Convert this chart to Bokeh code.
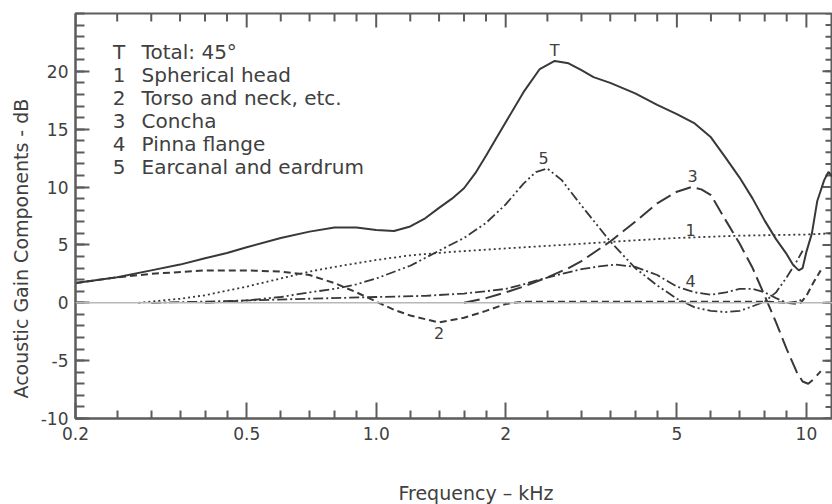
import math
from bokeh.plotting import figure
from bokeh.models import Range1d, FixedTicker, CustomJSTickFormatter, Label, Span, Title
from bokeh.embed import file_html
from bokeh.resources import INLINE

# ---------------- data ----------------
x_major = [0.2, 0.5, 1, 2, 5, 10]
x_tick_labels = ["0.2", "0.5", "1.0", "2", "5", "10"]
x_minor = [0.25, 0.3, 0.35, 0.4, 0.45, 0.6, 0.7, 0.8, 0.9, 1.2, 1.4, 1.6, 1.8,
           2.5, 3, 3.5, 4, 4.5, 6, 7, 8, 9]
y_major = [-10, -5, 0, 5, 10, 15, 20]
y_tick_labels = ["-10", "-5", "0", "5", "10", "15", "20"]
y_minor = list(range(-10, 26))

# T  Total: 45 deg
freq_T = [0.2, 0.25, 0.3, 0.35, 0.4, 0.45, 0.5, 0.6, 0.7, 0.8, 0.9, 1.0, 1.1,
          1.2, 1.3, 1.4, 1.5, 1.6, 1.7, 1.8, 1.9, 2.0, 2.2, 2.4, 2.6, 2.8,
          3.0, 3.2, 3.5, 4.0, 4.5, 5.0, 5.5, 6.0, 6.5, 7.0, 7.5, 8.0, 8.5,
          9.0, 9.3, 9.6, 9.8, 10.0, 10.3, 10.6, 11.0, 11.25, 11.5]
gain_T = [1.7, 2.2, 2.8, 3.3, 3.85, 4.3, 4.8, 5.6, 6.15, 6.5, 6.5, 6.3, 6.2,
          6.6, 7.3, 8.2, 9.0, 9.9, 11.2, 12.7, 14.2, 15.6, 18.2, 20.2, 20.9,
          20.7, 20.1, 19.5, 19.0, 18.1, 17.1, 16.3, 15.5, 14.3, 12.5, 10.8,
          9.0, 7.1, 5.5, 4.2, 3.3, 2.8, 3.0, 4.4, 6.0, 8.8, 10.6, 11.3, 10.9]

# 1  Spherical head
freq_1 = [0.28, 0.3, 0.35, 0.4, 0.5, 0.6, 0.7, 0.8, 1.0, 1.2, 1.5, 2.0, 3.0,
          4.0, 5.0, 7.0, 10.0, 11.5]
gain_1 = [0.0, 0.1, 0.35, 0.65, 1.4, 2.1, 2.7, 3.1, 3.7, 4.1, 4.4, 4.7, 5.1,
          5.4, 5.6, 5.8, 5.9, 6.0]

# 2  Torso and neck, etc.
freq_2 = [0.2, 0.25, 0.3, 0.4, 0.5, 0.6, 0.7, 0.8, 0.9, 1.0, 1.1, 1.2, 1.4,
          1.6, 1.8, 2.0, 2.2, 2.5, 3.0, 4.0, 5.0, 6.0, 7.0, 8.0, 9.0, 9.5,
          9.7, 10.0, 10.4, 10.8]
gain_2 = [1.7, 2.2, 2.5, 2.8, 2.8, 2.7, 2.4, 1.7, 0.9, 0.1, -0.6, -1.1, -1.7,
          -1.3, -0.7, -0.1, 0.1, 0.1, 0.1, 0.1, 0.1, 0.1, 0.1, 0.1, 0.0, -0.1,
          0.0, 0.6, 1.8, 2.8]

# 3  Concha
freq_3 = [1.6, 1.8, 2.0, 2.2, 2.5, 2.8, 3.0, 3.5, 4.0, 4.5, 5.0, 5.4, 5.7,
          6.0, 6.5, 7.0, 7.5, 8.0, 8.5, 9.0, 9.5, 9.8, 10.1, 10.4, 10.8]
gain_3 = [0.0, 0.4, 0.9, 1.4, 2.2, 3.0, 3.6, 5.3, 7.0, 8.6, 9.6, 10.0, 9.8,
          9.3, 7.1, 5.1, 3.0, 0.6, -1.7, -4.0, -6.0, -6.8, -7.0, -6.6, -5.9]

# 4  Pinna flange
freq_4 = [0.3, 0.4, 0.5, 0.7, 1.0, 1.3, 1.6, 1.8, 2.0, 2.2, 2.4, 2.7, 3.0,
          3.3, 3.6, 4.0, 4.5, 5.0, 5.5, 6.0, 6.5, 7.0, 7.5, 8.0, 8.5, 9.0,
          9.5, 9.8]
gain_4 = [0.0, 0.1, 0.2, 0.35, 0.5, 0.6, 0.8, 1.0, 1.2, 1.6, 2.0, 2.5, 2.9,
          3.15, 3.3, 3.1, 2.4, 1.4, 0.9, 0.7, 0.9, 1.2, 1.2, 0.9, 0.4, 0.0,
          0.1, 0.3]

# 5  Earcanal and eardrum
freq_5 = [0.4, 0.5, 0.6, 0.7, 0.8, 0.9, 1.0, 1.2, 1.4, 1.6, 1.8, 2.0, 2.2,
          2.35, 2.5, 2.7, 3.0, 3.5, 4.0, 4.5, 5.0, 5.5, 6.0, 6.5, 7.0, 7.5,
          8.0, 8.5, 9.0, 9.5, 9.8]
gain_5 = [0.0, 0.2, 0.5, 0.9, 1.2, 1.6, 2.1, 3.2, 4.5, 5.6, 6.9, 8.5, 10.3,
          11.3, 11.6, 10.6, 8.4, 5.3, 3.0, 1.5, 0.35, -0.4, -0.7, -0.8, -0.7,
          -0.3, 0.1, 0.9, 2.2, 3.6, 4.5]

legend_keys = ["T", "1", "2", "3", "4", "5"]
legend_names = ["Total: 45°", "Spherical head", "Torso and neck, etc.",
                "Concha", "Pinna flange", "Earcanal and eardrum"]

# curve tags: (text, freq, gain)
tag_text = ["T", "5", "3", "1", "4", "2"]
tag_freq = [2.60, 2.45, 5.44, 5.38, 5.38, 1.40]
tag_gain = [21.8, 12.55, 11.0, 6.25, 1.85, -2.65]

x_title = "Frequency \u2013 kHz"
y_title = "Acoustic Gain Components - dB"

# ---------------- styling ----------------
FONT = "DejaVu Sans"
INK = "#383838"
TXT = "#404040"
AX = "#5c5c5c"
X0, X1 = 0.2, 11.5
Y0, Y1 = -10, 25

p = figure(width=832, height=504, x_axis_type="log",
           x_range=Range1d(X0, X1), y_range=Range1d(Y0, Y1),
           output_backend="svg", toolbar_location=None,
           min_border_left=75, min_border_right=0,
           min_border_top=13, min_border_bottom=86)
p.grid.visible = False
p.outline_line_color = AX
p.outline_line_width = 2
p.background_fill_color = "white"
p.border_fill_color = "white"


def list_formatter(vals, labs):
    return CustomJSTickFormatter(args=dict(vals=vals, labs=labs), code="""
const i = vals.findIndex(v => Math.abs(v - tick) < 1e-9);
return i >= 0 ? labs[i] : String(tick);
""")


def style_axis(ax, maj_in, min_in, standoff):
    ax.axis_line_color = AX
    ax.axis_line_width = 2
    ax.major_tick_line_color = AX
    ax.major_tick_line_width = 2
    ax.minor_tick_line_color = AX
    ax.minor_tick_line_width = 2
    ax.major_tick_in = maj_in
    ax.major_tick_out = 0
    ax.minor_tick_in = min_in
    ax.minor_tick_out = 0
    ax.major_label_text_font = FONT
    ax.major_label_text_font_size = "17px"
    ax.major_label_text_color = TXT
    ax.major_label_standoff = standoff


xa = p.xaxis[0]
xa.ticker = FixedTicker(ticks=x_major, minor_ticks=x_minor)
xa.formatter = list_formatter(x_major, x_tick_labels)
style_axis(xa, 16, 8, 8)

ya = p.yaxis[0]
ya.ticker = FixedTicker(ticks=y_major, minor_ticks=y_minor)
ya.formatter = list_formatter(y_major, y_tick_labels)
style_axis(ya, 14, 9, 7)

# inward ticks on the top and right edges (same tick lists)
tick_kw = dict(line_color=AX, line_width=2, length_units="screen")
p.ray(x=x_major, y=[Y1] * len(x_major), length=14, angle=-math.pi / 2, **tick_kw)
p.ray(x=x_minor, y=[Y1] * len(x_minor), length=8, angle=-math.pi / 2, **tick_kw)
p.ray(x=[X1] * len(y_major), y=y_major, length=10, angle=math.pi, **tick_kw)
p.ray(x=[X1] * len(y_minor), y=y_minor, length=7, angle=math.pi, **tick_kw)

# zero reference line
p.add_layout(Span(location=0, dimension="width", line_color="#b8b8b8",
                  line_width=1.6))

# curves
p.line(freq_1, gain_1, line_color=INK, line_width=1.8, line_dash="2 3")
p.line(freq_2, gain_2, line_color=INK, line_width=2, line_dash="7 4")
p.line(freq_3, gain_3, line_color=INK, line_width=2, line_dash="16 6")
p.line(freq_4, gain_4, line_color=INK, line_width=1.8, line_dash="10 3 2 3")
p.line(freq_5, gain_5, line_color=INK, line_width=1.8,
       line_dash="10 3 2 3 2 3")
p.line(freq_T, gain_T, line_color=INK, line_width=2)

# legend block (text)
key_x, name_x = 0.2527, 0.2849
for i, (k, n) in enumerate(zip(legend_keys, legend_names)):
    yb = 21.7 - 2.0 * i
    p.add_layout(Label(x=key_x, y=yb, text=k, text_font=FONT,
                       text_font_size="20px", text_color=TXT,
                       text_align="center", text_baseline="alphabetic"))
    p.add_layout(Label(x=name_x, y=yb, text=n, text_font=FONT,
                       text_font_size="20px", text_color=TXT,
                       text_align="left", text_baseline="alphabetic"))

# curve tags
for t, fx, gy in zip(tag_text, tag_freq, tag_gain):
    p.add_layout(Label(x=fx, y=gy, text=t, text_font=FONT,
                       text_font_size="16px", text_color=TXT,
                       text_align="center", text_baseline="middle"))

# x title: label in the bottom side panel (not clipped by the frame)
p.add_layout(Label(x=1.706, y=-16.4, text=x_title, text_font=FONT,
                   text_font_size="19px", text_color=TXT,
                   text_align="center", text_baseline="middle"), "below")
# y title
p.add_layout(Title(text=y_title, text_font=FONT, text_font_size="19px",
                   text_font_style="normal", text_color=TXT,
                   align="left", offset=20, standoff=12), "left")

open("out.html", "w").write(file_html(p, INLINE))
